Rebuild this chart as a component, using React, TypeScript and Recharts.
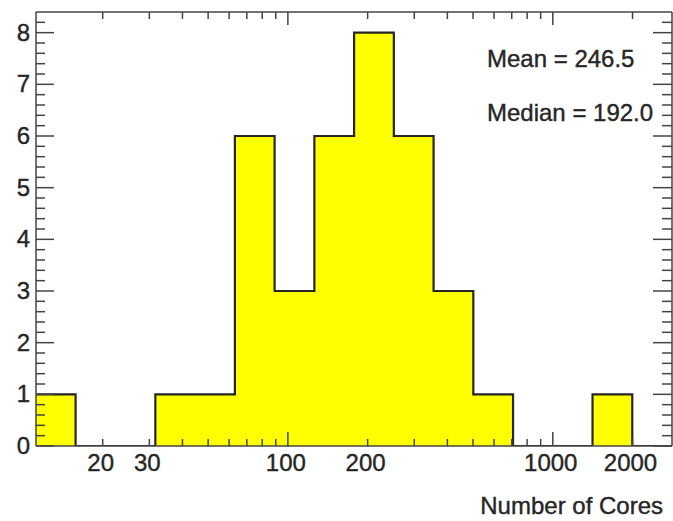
import { ComposedChart, Area, XAxis, YAxis, Customized } from 'recharts';

// log-spaced bin edges (16 bins) and the entries in each bin
const binEdges = [11.2, 15.8, 22.4, 31.6, 44.7, 63.1, 89.1, 125.9, 177.8, 251.2, 354.8, 501.2, 707.9, 1000, 1412.5, 1995.3, 2818.4];
const counts = [1, 0, 0, 1, 1, 6, 3, 6, 8, 6, 3, 1, 0, 0, 1, 0];

const xTicks = [20, 30, 40, 50, 60, 70, 80, 90, 100, 200, 300, 400, 500, 600, 700, 800, 900, 1000, 2000];
const xLabels = [20, 30, 100, 200, 1000, 2000];
const xMajor = [100, 1000];
const stats = ['Mean = 246.5', 'Median = 192.0'];
const xTitle = 'Number of Cores';

// minor ticks every 0.2 on y
const yTicks = Array.from({ length: 42 }, (_, i) => Math.round(i * 2) / 10);

// stepAfter needs the closing edge as an extra point
const data = binEdges.map((x, i) => ({ x, n: counts[Math.min(i, counts.length - 1)] }));

const FONT = '"Liberation Sans", Arial, Helvetica, sans-serif';
const INK = '#262626';
const AXIS = '#444';
const FS = 24;

const isMajorY = (v: number) => Math.abs(v - Math.round(v)) < 1e-6;

const LeftTick = (p: any) => {
  const { x, y, payload } = p;
  const v = payload.value;
  const major = isMajorY(v);
  return (
    <g>
      <line x1={x} x2={x + (major ? 18 : 9)} y1={y} y2={y} stroke={AXIS} strokeWidth={1.5} />
      {major && (
        <text x={x - 6} y={y + 8} textAnchor="end" fontFamily={FONT} fontSize={FS} fill={INK} stroke={INK} strokeWidth={0.4}>
          {Math.round(v)}
        </text>
      )}
    </g>
  );
};

const RightTick = (p: any) => {
  const { x, y, payload } = p;
  const major = isMajorY(payload.value);
  return <line x1={x} x2={x - (major ? 19 : 10)} y1={y} y2={y} stroke={AXIS} strokeWidth={1.5} />;
};

const BottomTick = (p: any) => {
  const { x, y, payload } = p;
  const v = payload.value;
  const major = xMajor.includes(v);
  return (
    <g>
      <line x1={x} x2={x} y1={y} y2={y - (major ? 14 : 7)} stroke={AXIS} strokeWidth={1.5} />
      {xLabels.includes(v) && (
        <text x={x - 2} y={y + 25} textAnchor="middle" fontFamily={FONT} fontSize={FS} fill={INK} stroke={INK} strokeWidth={0.4}>
          {v}
        </text>
      )}
    </g>
  );
};

const TopTick = (p: any) => {
  const { x, y, payload } = p;
  const major = xMajor.includes(payload.value);
  return <line x1={x} x2={x} y1={y} y2={y + (major ? 13 : 7)} stroke={AXIS} strokeWidth={1.5} />;
};

const Texts = () => (
  <g fontFamily={FONT} fontSize={FS} fill={INK} stroke={INK} strokeWidth={0.4}>
    <text x={487} y={67}>{stats[0]}</text>
    <text x={487} y={121}>{stats[1]}</text>
    <text x={663} y={514} textAnchor="end">{xTitle}</text>
  </g>
);

export default function App() {
  return (
    <div style={{ position: 'absolute', left: 0, top: 0, background: '#fff' }}>
      <ComposedChart width={673} height={521} data={data} margin={{ top: 0, right: 0, bottom: 0, left: 0 }}>
        <Area
          type="stepAfter"
          dataKey="n"
          xAxisId="bottom"
          yAxisId="left"
          stroke={INK}
          strokeWidth={2.2}
          fill="#ffff00"
          fillOpacity={1}
          baseValue={0}
          dot={false}
          activeDot={false}
          isAnimationActive={false}
        />
        <XAxis
          xAxisId="bottom"
          dataKey="x"
          type="number"
          scale="log"
          domain={[11.2, 2818.4]}
          allowDataOverflow
          ticks={xTicks}
          interval={0}
          height={75}
          tickSize={0}
          tickMargin={0}
          tick={<BottomTick />}
          axisLine={{ stroke: AXIS, strokeWidth: 1.5 }}
        />
        <XAxis
          xAxisId="top"
          orientation="top"
          dataKey="x"
          type="number"
          scale="log"
          domain={[11.2, 2818.4]}
          allowDataOverflow
          ticks={xTicks}
          interval={0}
          height={12}
          tickSize={0}
          tickMargin={0}
          tick={<TopTick />}
          axisLine={{ stroke: AXIS, strokeWidth: 1.5 }}
        />
        <YAxis
          yAxisId="left"
          type="number"
          domain={[0, 8.4]}
          allowDataOverflow
          ticks={yTicks}
          interval={0}
          width={36}
          tickSize={0}
          tickMargin={0}
          tick={<LeftTick />}
          axisLine={{ stroke: AXIS, strokeWidth: 1.5 }}
        />
        <YAxis
          yAxisId="right"
          orientation="right"
          type="number"
          domain={[0, 8.4]}
          allowDataOverflow
          ticks={yTicks}
          interval={0}
          width={1}
          tickSize={0}
          tickMargin={0}
          tick={<RightTick />}
          axisLine={{ stroke: AXIS, strokeWidth: 1.5 }}
        />
        <Customized component={<Texts />} />
      </ComposedChart>
    </div>
  );
}
